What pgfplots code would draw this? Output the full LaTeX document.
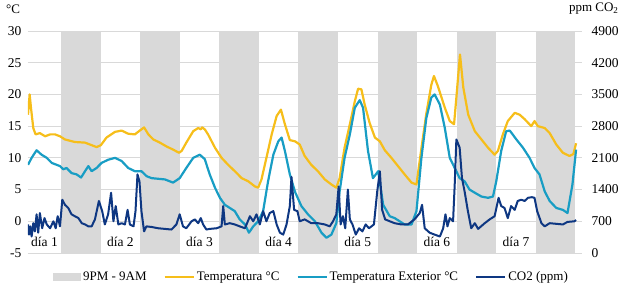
\documentclass[border=0pt]{standalone}
\usepackage{pgfplots}
\pgfplotsset{compat=1.18}
\usepackage{fontspec}
\setmainfont{Liberation Serif}
\definecolor{tyel}{RGB}{246,190,26}
\definecolor{tteal}{RGB}{24,157,196}
\definecolor{tco}{RGB}{14,55,130}
\definecolor{band}{RGB}{217,217,217}
\definecolor{gridc}{RGB}{217,217,217}
\begin{document}
\begin{tikzpicture}[x=1pt,y=1pt]
\useasboundingbox (-28,-41) rectangle (595,253);
\begin{axis}[
  at={(0,0)}, anchor=south west,
  scale only axis, width=554pt, height=222pt,
  xmin=0, xmax=168, ymin=-5, ymax=30,
  axis line style={draw=none},
  ytick={-5,0,5,10,15,20,25,30},
  ymajorgrids, grid style={gridc, line width=0.8pt},
  major tick length=0pt,
  xtick={5,28,52,76,100,124,148},
  xticklabels={día 1,día 2,día 3,día 4,día 5,día 6,día 7},
  xticklabel style={anchor=base, yshift=6pt},
  yticklabel style={xshift=-3pt},
  tick label style={font=\fontsize{13.5}{15}\selectfont},
  /pgf/number format/assume math mode=true,
  legend image code/.code={\draw[#1] (0pt,0pt) -- (29pt,0pt);},
  legend columns=4,
  legend style={at={(0.5117,-0.108)}, anchor=center, draw=none, fill=none,
    font=\fontsize{13}{15}\selectfont,
    /tikz/every even column/.append style={column sep=15pt}},
]
% 9PM - 9AM bands
\addplot[fill=band, draw=none, legend image code/.code={\fill[band] (0pt,-4pt) rectangle (28pt,4pt);}] coordinates {(10,-5) (10,30) (22,30) (22,-5)};
\addlegendentry{9PM - 9AM}
\addplot[fill=band, draw=none, forget plot] coordinates {(34,-5) (34,30) (46,30) (46,-5)};
\addplot[fill=band, draw=none, forget plot] coordinates {(58,-5) (58,30) (70,30) (70,-5)};
\addplot[fill=band, draw=none, forget plot] coordinates {(82,-5) (82,30) (94,30) (94,-5)};
\addplot[fill=band, draw=none, forget plot] coordinates {(106,-5) (106,30) (118,30) (118,-5)};
\addplot[fill=band, draw=none, forget plot] coordinates {(130,-5) (130,30) (142,30) (142,-5)};
\addplot[fill=band, draw=none, forget plot] coordinates {(154,-5) (154,30) (166,30) (166,-5)};
% Temperatura
\addplot[tyel, line width=2.2pt, line join=round] coordinates {
(0,16.8) (0.5,20) (0.9,17.9) (1.6,14.7) (2.3,13.7) (3.6,13.9) (5.2,13.4) (6.7,13.7) (8.2,13.7) (9.7,13.4)
(11.2,12.9) (14.2,12.5) (17.3,12.4) (19.3,12.0) (20.8,11.7) (22.1,12.0) (23.8,13.2) (26.4,14.1) (28.4,14.3)
(30.4,13.8) (32.4,13.7) (33.9,14.3) (35.2,14.8) (36.5,13.7) (38,12.9) (40,12.4) (42,11.8) (44,11.3) (45.8,10.8)
(46.6,11.1) (48,12.4) (50.1,14.2) (51.6,14.7) (52.4,14.5) (52.8,14.8) (53.6,14.5) (54.6,13.7) (56.7,11.6)
(58.7,10) (60.7,8.9) (62.7,7.9) (64.8,6.8) (66.8,6.3) (68.8,5.5) (69.8,5.3) (70.8,6.6) (72.3,10) (73.9,13.7)
(75.4,16.6) (76.7,17.6) (77.9,15.3) (79.4,12.8) (81,12.6) (82.4,12.1) (83.9,10.3) (85.9,8.9) (87.9,7.9)
(90,6.6) (92,5.8) (93.5,5.3) (94.5,6.8) (96,11.6) (97.6,15.3) (99.1,18.9) (100.1,20.9) (101.1,20.8)
(102.1,18.4) (103.6,15.5) (105.2,13.2) (106.7,12.6) (108.2,11.2) (110.2,10) (112.2,8.7) (114.2,7.4)
(116.3,6.1) (117.8,5.8) (119.3,11.5) (120.8,17) (122.3,21.5) (123.1,22.9) (124.3,21.3) (126.4,17.9)
(127.9,15.8) (129.2,15.3) (129.9,19.5) (131,26.3) (132,21.1) (133.5,16.8) (135.5,14.2) (137.5,12.9)
(139.5,11.6) (141.5,10.5) (142.5,11.1) (144,13.7) (145.5,15.8) (147.6,17.1) (149.1,16.8) (150.6,16.1)
(152.6,15) (153.6,15.8) (154.6,15) (156.7,14.7) (158.2,13.9) (160.2,12.1) (162.2,10.8) (164.2,10.3)
(165.4,10.6) (166.2,12.3)};
\addlegendentry{Temperatura °C}
% Temperatura Exterior
\addplot[tteal, line width=2.2pt, line join=round] coordinates {
(0,8.9) (1.1,10) (2.6,11.2) (4.1,10.5) (5.7,10) (7.2,9.2) (8.7,8.9) (9.7,8.7) (10.7,8.2) (11.7,8.4)
(13.2,7.6) (14.7,7.4) (16.1,6.9) (17.3,7.9) (18.3,8.7) (19.3,7.9) (20.8,8.4) (22.3,9.2) (24.3,9.7)
(26.4,10) (28.4,9.5) (30.4,8.4) (32.4,7.9) (34.4,7.9) (36,7.1) (37.5,6.8) (39.5,6.7) (41.5,6.6) (44,6.1)
(46,6.8) (48,8.4) (50.1,10) (52.1,10.5) (53.6,9.8) (55.1,7.4) (56.7,5.3) (58.2,3.7) (59.7,2.6) (61.2,2.1)
(62.7,1.6) (64.2,0.3) (65.8,-0.5) (67,-1.8) (68.3,-0.8) (69.8,0) (71.3,1.6) (72.8,6.3) (74.4,10.5)
(75.9,12.6) (76.9,13.2) (77.9,11.1) (79.4,7.4) (81,4.6) (82.9,2.4) (84.9,1.1) (87,0) (89,-1.8) (90.5,-2.6)
(92,-2.1) (93.5,-0.3) (94.5,4.7) (96,10) (97.6,13.7) (99.1,17.9) (100.6,19.1) (101.6,17.9) (103.1,11.1)
(104.6,6.8) (106.2,7.9) (107.7,2.6) (109.7,0.8) (111.2,0.5) (112.7,0) (114.2,-0.5) (116.3,-0.5)
(117.8,1.6) (119.3,10) (120.8,16.3) (122.3,19.5) (123.3,20) (124.9,18.4) (126.4,14.7) (127.9,10)
(129.4,8.4) (130.9,6.8) (132.4,6.3) (133.9,5) (135.5,4.5) (137.5,3.9) (139.5,3.7) (141,3.9) (142,6.3)
(143.5,11.1) (145,14.2) (146.1,14.3) (148.1,12.9) (150.1,11.6) (152.1,10) (153.6,8.4) (155.1,7.4)
(156.7,4.7) (158.2,3.2) (160.2,2.1) (162.2,1.8) (163.6,1.3) (165.1,5.8) (166.2,11.3)};
\addlegendentry{Temperatura Exterior °C}
\addlegendimage{tco, line width=2.2pt}
\addlegendentry{CO2 (ppm)}
\end{axis}
\node[font=\fontsize{13}{15}\selectfont] at (-15,244) {°C};
\node[anchor=east, font=\fontsize{13}{15}\selectfont] at (594,244) {ppm CO\textsubscript{2}};
\begin{axis}[
  at={(0,0)}, anchor=south west,
  scale only axis, width=554pt, height=222pt,
  xmin=0, xmax=168, ymin=0, ymax=4900,
  axis y line*=right, axis x line=none,
  axis line style={draw=none},
  ytick={0,700,1400,2100,2800,3500,4200,4900},
  major tick length=0pt,
  yticklabel style={xshift=6pt},
  tick label style={font=\fontsize{13.5}{15}\selectfont},
  /pgf/number format/assume math mode=true,
  /pgf/number format/1000 sep={},
]
\addplot[tco, line width=2pt, line join=round] coordinates {
(0,630) (0.3,406) (0.7,588) (1.1,364) (1.6,658) (2.1,476) (2.6,854) (3.1,448) (3.6,882) (4.3,546)
(5,770) (5.7,630) (6.7,546) (7.7,700) (8.4,546) (9,812) (9.7,588) (10.4,1176) (11.2,1064) (12.2,994)
(13.2,854) (14.2,812) (15.3,770) (16.3,658) (17.3,630) (18.3,588) (19.3,588) (20.3,742) (21.5,1148)
(22.5,924) (23.3,630) (24.3,854) (25.2,1330) (25.9,700) (26.6,1036) (27.4,630) (28.4,658) (29.4,630)
(30.2,952) (30.9,630) (32,588) (32.6,924) (33.2,1736) (33.8,1582) (34.4,924) (35.2,476) (35.9,588)
(37.5,574) (39.5,546) (41.5,532) (43.5,518) (45,630) (46,854) (47,588) (48,546) (49.6,700) (50.6,742)
(51.6,658) (52.4,770) (53.1,630) (54.1,518) (55.1,532) (57.2,546) (58.7,588) (59.2,1036) (59.7,630)
(61.2,658) (62.7,630) (64.2,588) (65.8,546) (67.3,812) (68.3,700) (69.3,854) (70.3,630) (71.3,924)
(72.3,700) (73.3,882) (74.4,924) (75.4,630) (76.4,448) (77.4,406) (78.4,630) (79.4,1036) (79.9,1680)
(80.7,952) (81.7,924) (82.4,700) (83.9,742) (85.9,658) (87.9,658) (90,630) (91.5,588) (92.5,700)
(93.5,854) (94.2,1470) (94.8,630) (95.5,812) (96.2,546) (97,1400) (97.6,742) (98.4,630) (99.4,406)
(100.4,546) (101.4,476) (102.4,630) (103.4,546) (104.9,630) (105.9,1358) (106.7,1806) (107.4,952)
(108.3,742) (109.7,700) (111.2,658) (113.2,630) (115.2,630) (117.2,742) (118.8,882) (119.5,1064)
(120.3,546) (121.8,448) (123.3,406) (124.9,364) (125.9,546) (126.6,854) (127.2,588) (127.9,770)
(128.9,700) (129.4,1512) (129.9,2506) (130.9,2324) (131.6,1652) (132.4,1358) (133.4,924) (134.4,546)
(135.5,658) (136.5,532) (138.5,658) (140,742) (141.5,812) (142.7,1218) (143.5,1036) (144.5,994)
(145.5,770) (146.5,1036) (147.6,952) (148.5,1148) (149.6,1176) (150.6,1148) (151.6,1218) (152.8,1232)
(153.6,1218) (154.4,924) (155.7,658) (156.7,588) (158.2,658) (160.2,644) (162.2,630) (163.6,686)
(165.7,700) (166.2,728)};
\end{axis}
\end{tikzpicture}
\end{document}
